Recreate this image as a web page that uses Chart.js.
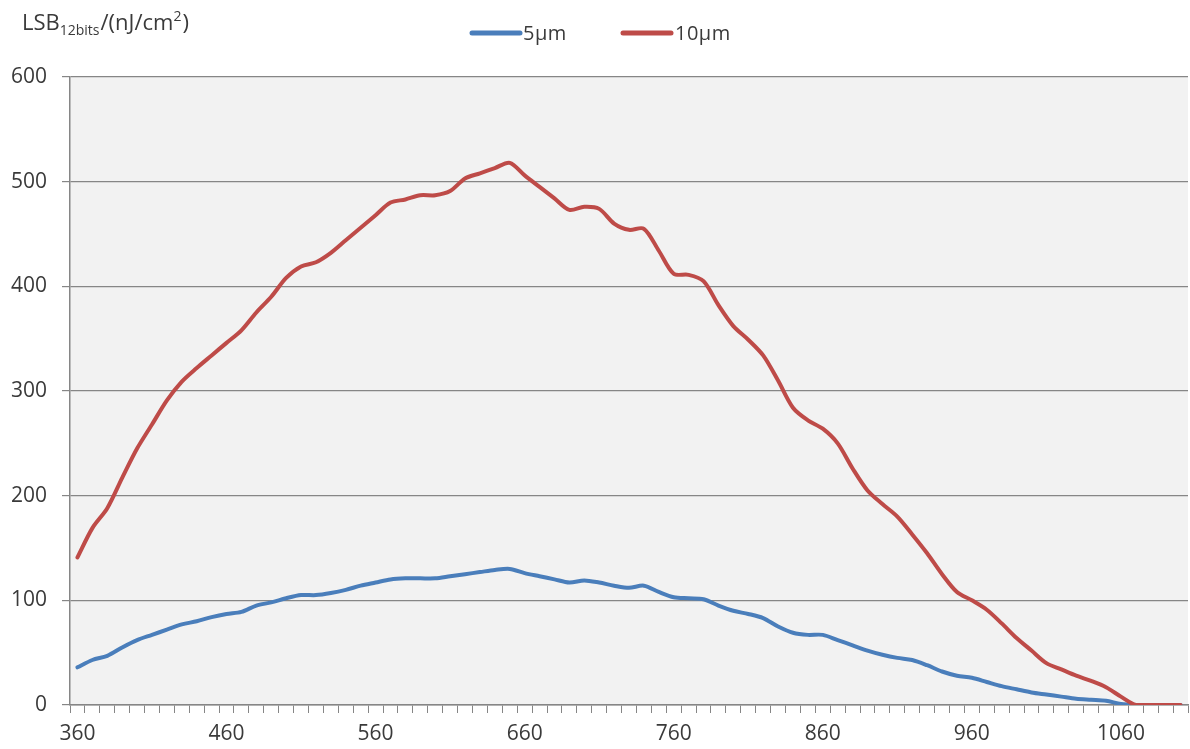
<!DOCTYPE html>
<html>
<head>
<meta charset="utf-8">
<script src="https://cdn.jsdelivr.net/npm/chart.js@4/dist/chart.umd.min.js"></script>
<style>
html,body{margin:0;padding:0;background:#fff;}
#wrap{width:1190px;height:749px;position:relative;}
</style>
</head>
<body>
<div id="wrap"><canvas id="c" width="1190" height="749"></canvas></div>
<script>
const wavelengths = [360,370,380,390,400,410,420,430,440,450,460,470,480,490,500,510,520,530,540,550,
  560,570,580,590,600,610,620,630,640,650,660,670,680,690,700,710,720,730,740,750,
  760,770,780,790,800,810,820,830,840,850,860,870,880,890,900,910,920,930,940,950,
  960,970,980,990,1000,1010,1020,1030,1040,1050,1060,1070,1080,1090,1100];
const series5um = [36,43,47,55,62,67,72,77,80,84,87,89,95,98,102,105,105,107,110,114,
  117,120,121,121,121,123,125,127,129,130,126,123,120,117,119,117,114,112,114,108,
  103,102,101,95,90,87,83,75,69,67,67,62,57,52,48,45,43,38,32,28,
  26,22,18,15,12,10,8,6,5,4,1,0,0,0,0];
const series10um = [141,169,188,217,245,268,291,309,322,334,346,358,375,390,408,419,423,432,444,456,
  468,480,483,487,487,491,503,508,513,518,506,495,484,473,476,474,460,454,455,434,
  412,411,405,382,362,349,334,310,284,272,264,250,226,205,192,180,163,145,125,108,
  100,91,78,64,52,40,34,28,23,17,8,0,0,0,0];
const xTickLabels = [360,460,560,660,760,860,960,1060];
const yTicks = [0,100,200,300,400,500,600];
const seriesNames = ['5μm','10μm'];
const seriesColors = ['#4a7ebb','#be4b48'];

const FONT = '"Open Sans", "DejaVu Sans", sans-serif';
const TEXT = '#3a3a3a';

const bgPlugin = {
  id:'bg',
  beforeDraw(chart){
    const {ctx, chartArea:a} = chart;
    ctx.save();
    ctx.fillStyle = '#f2f2f2';
    ctx.fillRect(a.left, a.top, a.right-a.left, a.bottom-a.top);
    ctx.restore();
  },
  afterDraw(chart){
    const ctx = chart.ctx;
    ctx.save();
    // axis title with sub/superscript
    ctx.fillStyle = TEXT;
    ctx.textBaseline = 'alphabetic';
    ctx.textAlign = 'left';
    const y = 30;
    const parts = [
      {t:'LSB', s:22, dy:0},
      {t:'12bits', s:14, dy:5},
      {t:'/(nJ/cm', s:22, dy:0},
      {t:'2', s:14, dy:-9},
      {t:')', s:22, dy:0}
    ];
    let x = 22;
    parts.forEach(p=>{
      ctx.font = p.s + 'px ' + FONT;
      ctx.fillText(p.t, x, y + p.dy);
      x += ctx.measureText(p.t).width + (p.s < 20 ? 1 : 0);
    });
    // legend
    const items = [{x:472, tx:523},{x:623, tx:675}];
    ctx.font = '20px ' + FONT;
    ctx.letterSpacing = '0.5px';
    ctx.textBaseline = 'middle';
    items.forEach((it,i)=>{
      ctx.strokeStyle = seriesColors[i];
      ctx.lineWidth = 5;
      ctx.lineCap = 'round';
      ctx.beginPath(); ctx.moveTo(it.x, 33); ctx.lineTo(it.x+48, 33); ctx.stroke();
      ctx.fillStyle = TEXT;
      ctx.fillText(seriesNames[i], it.tx, 34);
    });
    ctx.restore();
  }
};

new Chart(document.getElementById('c'), {
  type:'line',
  data:{
    labels: wavelengths,
    datasets:[
      {label:seriesNames[0], data:series5um, borderColor:seriesColors[0], backgroundColor:seriesColors[0],
       borderWidth:4, pointRadius:0, tension:0.3, order:1, borderCapStyle:'round', borderJoinStyle:'round'},
      {label:seriesNames[1], data:series10um, borderColor:seriesColors[1], backgroundColor:seriesColors[1],
       borderWidth:4, pointRadius:0, tension:0.3, order:0, borderCapStyle:'round', borderJoinStyle:'round'}
    ]
  },
  options:{
    responsive:false,
    animation:false,
    events:[],
    layout:{padding:{top:77, right:2, left:0, bottom:0}},
    plugins:{legend:{display:false}, title:{display:false}, tooltip:{enabled:false}},
    scales:{
      x:{
        type:'category',
        offset:true,
        grid:{offset:true, drawOnChartArea:false, drawTicks:true, tickLength:8, color:'#868686', lineWidth:1},
        border:{color:'#868686', width:1.5},
        ticks:{
          autoSkip:false, maxRotation:0, minRotation:0, padding:8,
          color:TEXT, font:{family:FONT, size:21},
          callback:function(v, i){ const l = wavelengths[i]; return xTickLabels.includes(l) ? String(l) : ''; }
        },
        afterFit(s){ s.height = 44; }
      },
      y:{
        min:0, max:600,
        afterBuildTicks(s){ s.ticks = yTicks.map(v=>({value:v})); },
        grid:{color:'#868686', lineWidth:1.2, tickLength:8, drawTicks:true},
        border:{color:'#868686', width:1.5},
        ticks:{color:TEXT, font:{family:FONT, size:21}, padding:15},
        afterFit(s){ s.width = 70; }
      }
    }
  },
  plugins:[bgPlugin]
});
</script>
</body>
</html>
